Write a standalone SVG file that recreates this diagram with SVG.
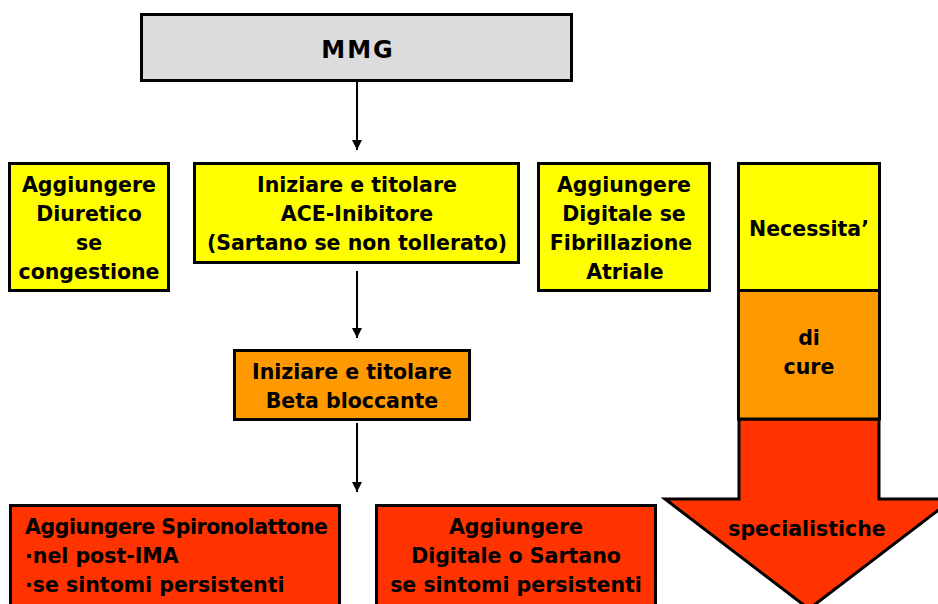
<svg xmlns="http://www.w3.org/2000/svg" width="938" height="604" viewBox="0 0 938 604">
  <defs>
    <marker id="arrowhead" viewBox="0 0 10 10" refX="10" refY="5" markerWidth="5" markerHeight="5" orient="auto" markerUnits="strokeWidth">
      <path d="M0,0 L10,5 L0,10 z" fill="#000"/>
    </marker>
    <style>
      .box { stroke: #000; stroke-width: 3; }
      .gray { fill: #dcdcdc; }
      .yellow { fill: #ffff00; }
      .orange { fill: #ff9900; }
      .red { fill: #ff3300; }
      text { font-family: "DejaVu Sans", "Liberation Sans", sans-serif; font-weight: bold; font-size: 20.5px; fill: #000; }
      .c { text-anchor: middle; }
      .title { font-size: 24px; letter-spacing: 2px; }
      .link { stroke: #000; stroke-width: 2; fill: none; marker-end: url(#arrowhead); }
    </style>
  </defs>

  <rect width="938" height="604" fill="#fff"/>

  <g id="connectors">
    <line class="link" x1="357" y1="82" x2="357" y2="150"/>
    <line class="link" x1="357" y1="271" x2="357" y2="338"/>
    <line class="link" x1="357" y1="423" x2="357" y2="492"/>
  </g>

  <g id="mmg">
    <rect class="box gray" x="141.5" y="14.5" width="430" height="66"/>
    <text class="c title" x="358" y="58">MMG</text>
  </g>

  <g id="diuretico">
    <rect class="box yellow" x="9.5" y="163.5" width="159" height="127"/>
    <text class="c" x="89" y="192">Aggiungere</text>
    <text class="c" x="89" y="221">Diuretico</text>
    <text class="c" x="89" y="250">se</text>
    <text class="c" x="89" y="279">congestione</text>
  </g>

  <g id="ace-inibitore">
    <rect class="box yellow" x="194.5" y="163.5" width="324" height="99"/>
    <text class="c" x="357" y="192">Iniziare e titolare</text>
    <text class="c" x="357" y="221">ACE-Inibitore</text>
    <text class="c" x="357" y="250">(Sartano se non tollerato)</text>
  </g>

  <g id="digitale-fa">
    <rect class="box yellow" x="538.5" y="163.5" width="171" height="127"/>
    <text class="c" x="624" y="192">Aggiungere</text>
    <text class="c" x="624" y="221">Digitale se</text>
    <text class="c" x="621" y="250">Fibrillazione</text>
    <text class="c" x="625" y="279">Atriale</text>
  </g>

  <g id="beta-bloccante">
    <rect class="box orange" x="234.5" y="350.5" width="235" height="69"/>
    <text class="c" x="352" y="379">Iniziare e titolare</text>
    <text class="c" x="352" y="408">Beta bloccante</text>
  </g>

  <g id="spironolattone">
    <rect class="box red" x="10.5" y="505.5" width="329" height="110"/>
    <text x="25" y="534" textLength="303">Aggiungere Spironolattone</text>
    <text x="25" y="563">·nel post-IMA</text>
    <text x="25" y="592">·se sintomi persistenti</text>
  </g>

  <g id="digitale-sartano">
    <rect class="box red" x="376.5" y="505.5" width="279" height="110"/>
    <text class="c" x="516" y="534">Aggiungere</text>
    <text class="c" x="516" y="563">Digitale o Sartano</text>
    <text class="c" x="516" y="592">se sintomi persistenti</text>
  </g>

  <g id="necessita-cure">
    <polygon class="box red" points="739,419 879,419 879,499 953,499 809,609 665,499 739,499"/>
    <rect class="box yellow" x="738.5" y="163.5" width="141" height="127"/>
    <rect class="box orange" x="738.5" y="290.5" width="141" height="128.5"/>
    <text class="c" x="809" y="236">Necessita’</text>
    <text class="c" x="809" y="345">di</text>
    <text class="c" x="809" y="374">cure</text>
    <text class="c" x="807" y="536">specialistiche</text>
  </g>
</svg>
